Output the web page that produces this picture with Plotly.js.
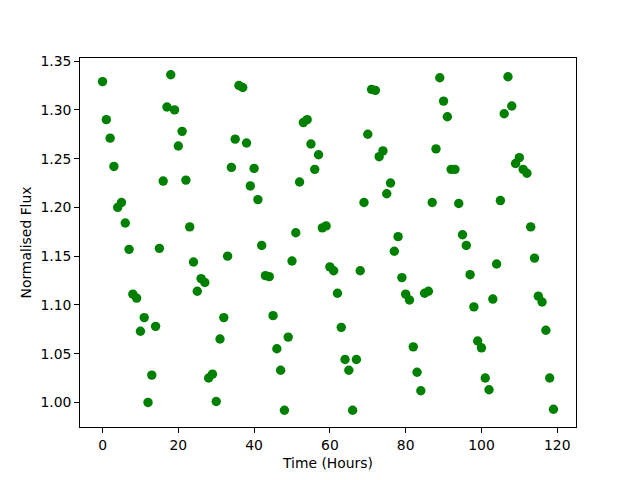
<!DOCTYPE html>
<html>
<head>
<meta charset="utf-8">
<script src="https://cdn.plot.ly/plotly-3.0.1.min.js"></script>
<style>html,body{margin:0;padding:0;background:#fff;}#chart{width:640px;height:480px;}</style>
</head>
<body>
<div id="chart"></div>
<script>
const hours = [];
for (let i = 0; i < 120; i++) hours.push(i);
const flux = [
1.329,1.290,1.271,1.242,1.200,1.205,1.184,1.157,1.111,1.107,
1.073,1.087,1.000,1.028,1.078,1.158,1.227,1.303,1.336,1.300,
1.263,1.278,1.228,1.180,1.144,1.114,1.127,1.123,1.025,1.029,
1.001,1.065,1.087,1.150,1.241,1.270,1.325,1.323,1.266,1.222,
1.240,1.208,1.161,1.130,1.129,1.089,1.055,1.033,0.992,1.067,
1.145,1.174,1.226,1.287,1.290,1.265,1.239,1.254,1.179,1.181,
1.139,1.135,1.112,1.077,1.044,1.033,0.992,1.044,1.135,1.205,
1.275,1.321,1.320,1.252,1.258,1.214,1.225,1.155,1.170,1.128,
1.111,1.105,1.057,1.031,1.012,1.112,1.114,1.205,1.260,1.333,
1.309,1.293,1.239,1.239,1.204,1.172,1.161,1.131,1.098,1.063,
1.056,1.025,1.013,1.106,1.142,1.207,1.296,1.334,1.304,1.245,
1.251,1.239,1.235,1.180,1.148,1.109,1.103,1.074,1.025,0.993
];
const xTicks = [0,20,40,60,80,100,120];
const yTicks = [1.00,1.05,1.10,1.15,1.20,1.25,1.30,1.35];

const trace = {
  x: hours, y: flux, type: 'scatter', mode: 'markers',
  marker: {color: '#008000', size: 9.4, line: {width: 0}},
  hoverinfo: 'none'
};
const axisCommon = {
  showgrid: false, zeroline: false, showline: true, linecolor: '#000', linewidth: 1,
  mirror: true, ticks: 'outside', ticklen: 4.9, tickwidth: 1, tickcolor: '#000',
  tickfont: {family: 'DejaVu Sans', size: 13.9, color: '#000'}
};
const layout = {
  width: 640, height: 480,
  margin: {l: 80, r: 64, t: 58, b: 53},
  paper_bgcolor: '#fff', plot_bgcolor: '#fff',
  showlegend: false,
  font: {family: 'DejaVu Sans', size: 13.9, color: '#000'},
  xaxis: Object.assign({}, axisCommon, {
    range: [-5.95, 124.95], tickvals: xTicks, ticktext: xTicks.map(String),
    title: {text: 'Time (Hours)', font: {family: 'DejaVu Sans', size: 13.9, color: '#000'}, standoff: 6}
  }),
  yaxis: Object.assign({}, axisCommon, {
    range: [0.9748, 1.3532], tickvals: yTicks, ticktext: yTicks.map(v => v.toFixed(2)),
    title: {text: 'Normalised Flux', font: {family: 'DejaVu Sans', size: 13.9, color: '#000'}, standoff: 5}
  })
};
Plotly.newPlot('chart', [trace], layout, {staticPlot: true, displayModeBar: false});
</script>
</body>
</html>
